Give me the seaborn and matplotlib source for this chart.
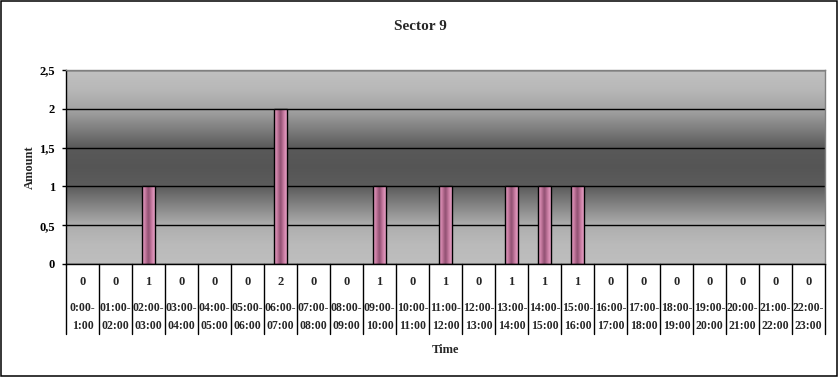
import numpy as np
import matplotlib
matplotlib.use("Agg")
import matplotlib.pyplot as plt
import matplotlib.transforms as mtransforms
from matplotlib.colors import LinearSegmentedColormap
from matplotlib.patches import Rectangle
import seaborn as sns
import pandas as pd

# ---- data ----
title = "Sector 9"
x_title = "Time"
y_title = "Amount"
time_labels = ["0:00-1:00", "01:00-02:00", "02:00-03:00", "03:00-04:00", "04:00-05:00",
               "05:00-06:00", "06:00-07:00", "07:00-08:00", "08:00-09:00", "09:00-10:00",
               "10:00-11:00", "11:00-12:00", "12:00-13:00", "13:00-14:00", "14:00-15:00",
               "15:00-16:00", "16:00-17:00", "17:00-18:00", "18:00-19:00", "19:00-20:00",
               "20:00-21:00", "21:00-22:00", "22:00-23:00"]
amounts = [0, 0, 1, 0, 0, 0, 2, 0, 0, 1, 0, 1, 0, 1, 1, 1, 0, 0, 0, 0, 0, 0, 0]
y_ticks = [0, 0.5, 1, 1.5, 2, 2.5]
y_tick_labels = ["0", "0,5", "1", "1,5", "2", "2,5"]

sns.set_theme(style="white")
plt.rcParams['font.family'] = ['Liberation Serif', 'DejaVu Serif']
plt.rcParams['font.weight'] = 'bold'

W, H = 840, 377
fig = plt.figure(figsize=(W / 100, H / 100), dpi=100)
fig.patch.set_facecolor("white")
ax = fig.add_axes([66 / W, 1 - 264 / H, 759 / W, 194 / H])

df = pd.DataFrame({"Time": time_labels, "Amount": amounts})
sns.barplot(data=df, x="Time", y="Amount", ax=ax, width=0.38, color="#c07090",
            edgecolor="black", linewidth=1.0, saturation=1, zorder=2)

n = len(time_labels)
ax.set_xlim(-0.5, n - 0.5)
ax.set_ylim(0, 2.5)

# background vertical gradient (light - dark - light)
bg_stops = [(0.0, 0.745), (0.1, 0.73), (0.2, 0.68), (0.3, 0.52), (0.4, 0.36),
            (0.5, 0.335), (0.6, 0.35), (0.7, 0.50), (0.8, 0.645), (0.9, 0.72), (1.0, 0.755)]
bg_cmap = LinearSegmentedColormap.from_list("bg", [(p, (g, g, g)) for p, g in bg_stops])
grad = np.linspace(0, 1, 256).reshape(-1, 1)
ax.imshow(grad, cmap=bg_cmap, origin="lower", extent=(0, 1, 0, 1), transform=ax.transAxes,
          aspect="auto", zorder=0, interpolation="bicubic")

# bar horizontal gradient
bar_cmap = LinearSegmentedColormap.from_list(
    "bar", ["#eaa2c8", "#c77aa0", "#8e4f70", "#c77aa0", "#eaa2c8"])
hgrad = np.linspace(0, 1, 64).reshape(1, -1)
for p in list(ax.patches):
    if p.get_height() > 0:
        x0, y0 = p.get_x(), p.get_y()
        im = ax.imshow(hgrad, cmap=bar_cmap, extent=(x0, x0 + p.get_width(), y0, y0 + p.get_height()),
                       aspect="auto", zorder=1.9, interpolation="bicubic")
        im.set_clip_path(p)
        p.set_facecolor("none")
    else:
        p.set_visible(False)

ax.set_xlim(-0.5, n - 0.5)
ax.set_ylim(0, 2.5)

# grid and spines
ax.set_axisbelow(True)
ax.yaxis.grid(True, color="black", linewidth=1.0)
ax.xaxis.grid(False)
for s in ["left", "bottom"]:
    ax.spines[s].set_color("black")
    ax.spines[s].set_linewidth(1.0)
for s in ["top", "right"]:
    ax.spines[s].set_color("#808080")
    ax.spines[s].set_linewidth(1.0)

ax.set_yticks(y_ticks)
ax.set_yticklabels(y_tick_labels)
ax.tick_params(axis="y", left=True, length=3, width=1, direction="out", pad=5,
               labelsize=9, colors="black")
ax.set_xticks(range(n))
ax.set_xticklabels([])
ax.tick_params(axis="x", length=0, bottom=False)
ax.set_xlabel("")
ax.set_ylabel("")

# data table under the axis
blend = mtransforms.blended_transform_factory(ax.transData, ax.transAxes)
for i in range(n + 1):
    ax.plot([i - 0.5, i - 0.5], [0, -0.361], transform=blend, color="black",
            linewidth=1.0, clip_on=False)
for i, (lab, val) in enumerate(zip(time_labels, amounts)):
    start, end = lab.split("-")
    ax.text(i, -0.093, str(val), transform=blend, ha="center", va="center",
            fontsize=9, fontweight="bold")
    ax.text(i, -0.227, start + "-", transform=blend, ha="center", va="center",
            fontsize=8.5, fontweight="bold")
    ax.text(i, -0.320, end, transform=blend, ha="center", va="center",
            fontsize=8.5, fontweight="bold")

# titles
fig.text(0.5, 1 - 27 / H, title, ha="center", va="center", fontsize=11, fontweight="bold")
ax.text(0.5, -(350 - 264) / 194, x_title, transform=ax.transAxes, ha="center", va="center",
        fontsize=9, fontweight="bold")
ax.text((30 - 66) / 759, 0.5, y_title, transform=ax.transAxes, ha="center", va="center",
        rotation=90, fontsize=9, fontweight="bold")

# outer chart border
fig.patches.append(Rectangle((0.5 / W, 1.5 / H), 836.5 / W, 374.5 / H, transform=fig.transFigure,
                             fill=False, edgecolor="black", linewidth=1.1))

fig.savefig("out.png", dpi=100)
